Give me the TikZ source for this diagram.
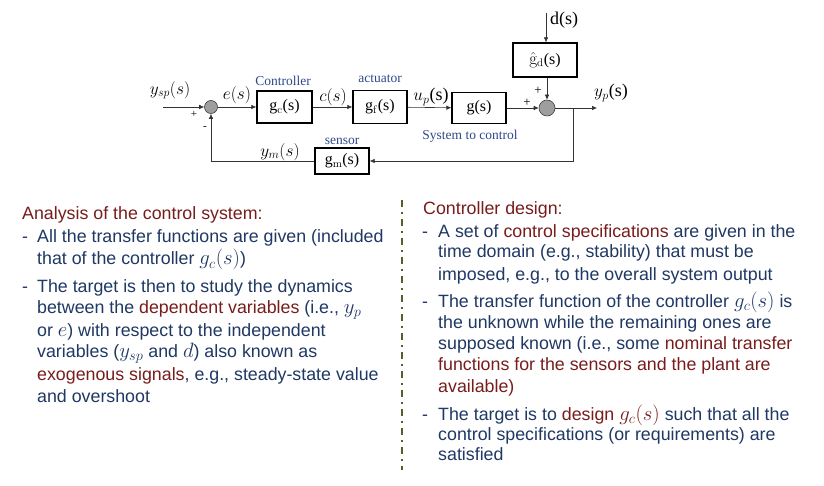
\documentclass[tikz,border=0pt]{standalone}
\usepackage[no-math]{fontspec}
\setmainfont{Liberation Serif}
\newfontfamily\arial{Liberation Sans}
\usetikzlibrary{arrows.meta}
\definecolor{navy}{RGB}{31,56,100}
\definecolor{dred}{RGB}{120,28,28}
\definecolor{lblue}{RGB}{46,74,138}
\definecolor{olivesep}{RGB}{79,98,40}
\newcommand\bmath[1]{{\fontsize{20}{22}\selectfont$#1$}}
\begin{document}
\begin{tikzpicture}[x=1pt,y=-1pt,
  blk/.style={draw, line width=1.3pt, inner sep=0pt, font=\fontsize{16}{16}\selectfont},
  sumc/.style={circle, draw=black!75, line width=0.6pt, fill=black!38, minimum size=13pt, inner sep=0pt},
  sig/.style={line width=0.6pt, draw=black!80},
  arr/.style={sig, -{Latex[length=5pt,width=4.5pt]}},
  lbl/.style={font=\fontsize{13.5}{14}\selectfont, text=lblue, inner sep=0pt},
  ml/.style={font=\fontsize{18}{18}\selectfont, inner sep=0pt},
  pm/.style={font=\fontsize{11}{11}\selectfont, inner sep=0pt},
  body/.style={font=\arial\fontsize{17.8}{22}\selectfont, text=navy, anchor=base west, inner sep=0pt},
  sepline/.style={draw=olivesep, line width=1.8pt, dash pattern=on 7pt off 5pt on 2pt off 5pt}
]
\fill[white] (0,0) rectangle (824,486);
\useasboundingbox (0,0) rectangle (824,486);

% blocks
\node[sumc] (s1) at (211,107) {};
\node[blk, minimum width=55pt, minimum height=32pt] (gc) at (284.5,107) {g$_\mathrm{c}$(s)};
\node[blk, minimum width=54pt, minimum height=33pt] (gf) at (380,107) {g$_\mathrm{f}$(s)};
\node[blk, minimum width=54pt, minimum height=31pt] (g) at (479,108) {g(s)};
\node[sumc, minimum size=16pt] (s2) at (547,108) {};
\node[blk, minimum width=64pt, minimum height=34pt] (gd) at (545,60) {$\hat{\mathrm{g}}_\mathrm{d}$(s)};
\node[blk, minimum width=54pt, minimum height=26pt] (gm) at (342,161) {g$_\mathrm{m}$(s)};

\coordinate (in) at (163,107);
\coordinate (dtop) at (546,13);
\coordinate (out) at (597,108);
\coordinate (br) at (573,108);

% connectors
\draw[arr] (in) -- (s1);
\draw[arr] (s1) -- (gc);
\draw[arr] (gc) -- (gf);
\draw[arr] (gf) -- (g);
\draw[arr] (g) -- (s2);
\draw[arr] (dtop) -- (dtop |- gd.north);
\draw[arr] (gd.south -| s2) -- (s2);
\draw[arr] (s2) -- (out);
\draw[arr] (br) |- (gm);
\draw[arr] (gm) -| (s1);

% diagram labels
\node[ml] (lysp) at (170,90) {$y_{sp}(s)$};
\node[pm] (p1) at (194,114) {+};
\node[pm] (m1) at (205,128) {-};
\node[ml] (le) at (237,95) {$e(s)$};
\node[lbl] (lctrl) at (283,81) {Controller};
\node[ml] (lc) at (333,97) {$c(s)$};
\node[lbl] (lact) at (380,79) {actuator};
\node[ml] (lup) at (431,97) {$u_p$(s)};
\node[lbl] (lsys) at (470,136) {System to control};
\node[pm, font=\fontsize{13}{13}\selectfont] (p2) at (527,103) {+};
\node[pm, font=\fontsize{13}{13}\selectfont] (p3) at (538,91) {+};
\node[ml] (ld) at (564,20) {d(s)};
\node[ml] (lyp) at (611,93) {$y_p$(s)};
\node[lbl] (lsen) at (342,141) {sensor};
\node[ml] (lym) at (280,152) {$y_m(s)$};

% separator
\coordinate (septop) at (402,200);
\coordinate (sepbot) at (402,470);
\draw[sepline] (septop) -- (sepbot);

% left column
\node[body, text=dred] (l0) at (22,220) {Analysis of the control system:};
\node[body] (l1d) at (22,243) {-};
\node[body] (l1) at (37,243) {All the transfer functions are given (included};
\node[body] (l2) at (37,265) {that of the controller \bmath{g_c(s)})};
\node[body] (l3d) at (22,292) {-};
\node[body] (l3) at (37,292) {The target is then to study the dynamics};
\node[body] (l4) at (37,313) {between the \textcolor{dred}{dependent variables} (i.e., \bmath{y_p}};
\node[body] (l5) at (37,336) {or \bmath{e}) with respect to the independent};
\node[body] (l6) at (37,357) {variables (\bmath{y_{sp}} and \bmath{d}) also known as};
\node[body] (l7) at (37,380) {\textcolor{dred}{exogenous signals}, e.g., steady-state value};
\node[body] (l8) at (37,402) {and overshoot};

% right column
\node[body, text=dred] (r0) at (423,215) {Controller design:};
\node[body] (r1d) at (422,238) {-};
\node[body] (r1) at (438,238) {A set of \textcolor{dred}{control specifications} are given in the};
\node[body] (r2) at (438,258) {time domain (e.g., stability) that must be};
\node[body] (r3) at (438,280) {imposed, e.g., to the overall system output};
\node[body] (r4d) at (422,307) {-};
\node[body] (r4) at (438,307) {The transfer function of the controller \bmath{g_c(s)} is};
\node[body] (r5) at (438,328) {the unknown while the remaining ones are};
\node[body] (r6) at (438,349) {supposed known (i.e., some \textcolor{dred}{nominal transfer}};
\node[body, text=dred] (r7) at (438,370) {functions for the sensors and the plant are};
\node[body, text=dred] (r8) at (438,392) {available)};
\node[body] (r9d) at (422,420) {-};
\node[body] (r9) at (438,420) {The target is to \textcolor{dred}{design \bmath{g_c(s)}} such that all the};
\node[body] (r10) at (438,440) {control specifications (or requirements) are};
\node[body] (r11) at (438,460) {satisfied};
\end{tikzpicture}
\end{document}
